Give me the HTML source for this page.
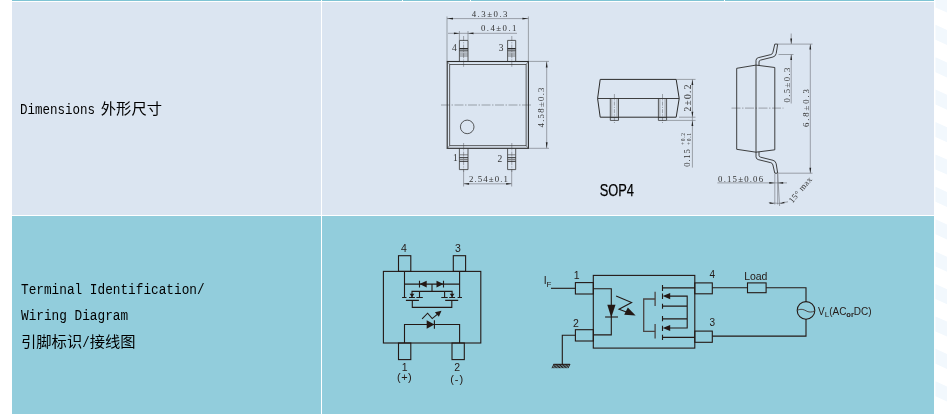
<!DOCTYPE html>
<html lang="zh">
<head>
<meta charset="utf-8">
<title>SOP4 Dimensions / Wiring Diagram</title>
<style>
html,body{margin:0;padding:0;background:#fff;}
body{width:947px;height:414px;position:relative;overflow:hidden;font-family:"Liberation Sans","Noto Sans CJK SC",sans-serif;}
.c{position:absolute;}
.lt{background:#dbe5f1;}
.tl{background:#92cddc;}
.lab{will-change:transform;position:absolute;left:21px;white-space:nowrap;color:#000;font-size:15px;line-height:20px;height:20px;}
.lab .m{font-family:"Liberation Mono","Noto Sans CJK SC",monospace;font-size:12.5px;display:inline-block;transform:scaleY(1.2);transform-origin:0 77%;}
.lab .k{font-family:"Liberation Sans","Noto Sans CJK SC",sans-serif;font-size:15.300px;}
svg{position:absolute;left:0;top:0;will-change:transform;}
svg text{font-family:"Liberation Serif","Noto Serif CJK SC",serif;fill:#333;}
svg .a{font-family:"Liberation Sans","Noto Sans CJK SC",sans-serif;fill:#231815;}
</style>
</head>
<body>
<!-- table backgrounds -->
<div class="c" style="left:12px;top:0;width:922px;height:1px;background:#7fc4d4"></div>
<div class="c lt" style="left:12px;top:2px;width:309px;height:213px"></div>
<div class="c lt" style="left:322px;top:2px;width:612px;height:213px"></div>
<div class="c tl" style="left:12px;top:216px;width:309px;height:198px"></div>
<div class="c tl" style="left:322px;top:216px;width:612px;height:198px"></div>
<div class="c" style="left:321px;top:0;width:1px;height:2px;background:#fff"></div>
<div class="c" style="left:402px;top:0;width:1px;height:2px;background:#fff"></div>
<div class="c" style="left:470px;top:0;width:1px;height:2px;background:#fff"></div>
<div class="c" style="left:724px;top:0;width:1px;height:2px;background:#fff"></div>

<!-- left column labels -->
<div class="lab" style="top:98.600px;left:20.200px"><span class="m">Dimensions</span><span class="k" style="margin-left:5.800px">外形尺寸</span></div>
<div class="lab" style="top:278.600px;left:20.500px"><span class="m" style="font-size:12.750px">Terminal Identification/</span></div>
<div class="lab" style="top:305px;left:20.500px"><span class="m" style="font-size:12.750px">Wiring Diagram</span></div>
<div class="lab" style="top:332px"><span class="k">引脚标识</span><span class="m">/</span><span class="k">接线图</span></div>

<svg width="947" height="414" viewBox="0 0 947 414">
<!-- faint page decoration at right margin -->
<path d="M935.500 -40.0L947 -34.8V-19.8L935.500 -25.0ZM935.500 -7.6L947 -2.4V12.6L935.500 7.4ZM935.500 24.8L947 30.0V45.0L935.500 39.8ZM935.500 57.2L947 62.4V77.4L935.500 72.2ZM935.500 89.6L947 94.8V109.8L935.500 104.6ZM935.500 122.0L947 127.2V142.2L935.500 137.0ZM935.500 154.4L947 159.6V174.6L935.500 169.4ZM935.500 186.8L947 192.0V207.0L935.500 201.8ZM935.500 219.2L947 224.4V239.4L935.500 234.2ZM935.500 251.6L947 256.8V271.8L935.500 266.6ZM935.500 284.0L947 289.2V304.2L935.500 299.0ZM935.500 316.4L947 321.6V336.6L935.500 331.4ZM935.500 348.8L947 354.0V369.0L935.500 363.8ZM935.500 381.2L947 386.4V401.4L935.500 396.2ZM935.500 413.6L947 418.8V433.8L935.500 428.6Z" fill="#f2f8fd"/>
<!-- ===== top view ===== -->
<g id="topview" fill="none" stroke-linecap="butt">
 <!-- extension + dimension lines -->
 <g stroke="#6b6f75" stroke-width=".6">
  <path d="M447 16.5V61M528.4 16.5V61"/>
  <path d="M447 18.600H528.400"/>
  <path d="M459.4 31V40M468 31V40"/>
  <path d="M448 33.300H517"/>
  <path d="M528.400 61.400H549M528.400 148.300H549"/>
  <path d="M546.700 61.400V148.300"/>
  <path d="M463.600 170V186.500M511.700 170V186.500"/>
  <path d="M463.600 183.800H511.700"/>
  <!-- centre lines -->
  <path d="M441 105H532" stroke-dasharray="9 1.5 1.5 1.5"/>
  <path d="M463.6 36V67M511.8 36V67M463.6 143V172M511.8 143V172" stroke-dasharray="5 1.2 1.2 1.2"/>
 </g>
 <!-- arrow heads -->
 <g fill="#222" stroke="none">
  <path d="M447 18.600l6-.9v1.800zM528.400 18.600l-6-.9v1.800z"/>
  <path d="M459.400 33.300l-5.500-.9v1.800zM468 33.300l5.500-.9v1.800z"/>
  <path d="M546.700 61.400l-.9 6h1.800zM546.700 148.300l-.9-6h1.800z"/>
  <path d="M463.600 183.800l5.500-.9v1.800zM511.700 183.800l-5.500-.9v1.800z"/>
 </g>
 <!-- body -->
 <rect x="447.200" y="61.500" width="81.200" height="86.800" stroke="#2b2b2b" stroke-width="1.100"/>
 <rect x="449.700" y="64.400" width="76.400" height="81.300" stroke="#3a3a3a" stroke-width=".8"/>
 <path d="M447.200 61.500l2.500 2.900M528.400 61.500l-2.300 2.900M447.200 148.300l2.500-2.600M528.400 148.300l-2.300-2.600" stroke="#444" stroke-width=".6"/>
 <circle cx="467.2" cy="126.900" r="6.800" stroke="#333" stroke-width=".8"/>
 <!-- pins -->
 <g stroke="#333" stroke-width=".8">
  <path d="M459.400 61.500V40.400H468V61.500M507.600 61.500V40.400H515.700V61.500"/>
  <path d="M459.400 148.300V169.600H468V148.300M507.600 148.300V169.600H515.700V148.300"/>
 </g>
 <g stroke="#2b2b2b" stroke-width="1">
  <path d="M459.400 48.500H468M459.400 50.100H468M507.600 48.500H515.700M507.600 50.100H515.700"/>
  <path d="M459.400 157.700H468M459.400 161.300H468M507.600 157.700H515.700M507.600 161.300H515.700"/>
 </g>
 <g stroke="#555" stroke-width=".7">
  <path d="M459.400 51.900H468M459.400 54H468M459.400 56H468M507.600 51.900H515.700M507.600 54H515.700M507.600 56H515.700"/>
  <path d="M459.400 154.800H468M459.400 159.500H468M507.600 154.800H515.700M507.600 159.500H515.700"/>
 </g>
</g>
<g font-size="9.500" stroke="none">
 <text x="471.700" y="16.800" font-size="8.800" textLength="35.800" lengthAdjust="spacing">4.3±0.3</text>
 <text x="481" y="31.300" font-size="8.800" textLength="35.500" lengthAdjust="spacing">0.4±0.1</text>
 <text x="469" y="181.800" font-size="8.800" textLength="39" lengthAdjust="spacing">2.54±0.1</text>
 <text transform="translate(544.300 127.500) rotate(-90)" font-size="8.800" textLength="40" lengthAdjust="spacing">4.58±0.3</text>
 <text x="452" y="50.800">4</text>
 <text x="498.700" y="50.800">3</text>
 <text x="453" y="160.800">1</text>
 <text x="497.600" y="161.500">2</text>
</g>

<!-- ===== side view (pins) ===== -->
<g id="sideview" fill="none">
 <g stroke="#6b6f75" stroke-width=".6">
  <path d="M676.500 79.400H695.500M679 117.200H695.500M667 120.400H695.500"/>
  <path d="M692.400 79.400V167.600"/>
  <path d="M614.400 94V123M662.500 94V123" stroke-dasharray="4 1.2 1.2 1.2"/>
 </g>
 <g fill="#222" stroke="none">
  <path d="M692.400 79.400l-.9 5.500h1.800zM692.400 117.200l-.9-5.500h1.800zM692.400 120.400l-.9 5.500h1.800z"/>
 </g>
 <path d="M600.200 79.400H676.200L679.200 98.500L676.200 117.200H600.200L597.600 98.500Z" stroke="#2b2b2b" stroke-width="1"/>
 <path d="M597.600 98.500H679.200" stroke="#2b2b2b" stroke-width=".9"/>
 <g stroke="#333" stroke-width=".8">
  <path d="M610.300 98.500V120.400H618.500V98.500M658.400 98.500V120.400H666.600V98.500"/>
  <path d="M611.800 99V117.200M617 99V117.200M659.900 99V117.200M665.100 99V117.200" stroke="#777" stroke-width=".6"/>
  <path d="M610.300 117.600H618.500M658.400 117.600H666.600"/>
 </g>
</g>
<g font-size="8.800" stroke="none">
 <text transform="translate(690.900 111.500) rotate(-90)" font-size="9.500" textLength="27" lengthAdjust="spacing">2±0.2</text>
 <text transform="translate(690 166.700) rotate(-90)" textLength="17.500" lengthAdjust="spacing">0.15</text>
 <text transform="translate(685.200 145) rotate(-90)" font-size="5.500" textLength="12" lengthAdjust="spacing">+0.2</text>
 <text transform="translate(690.800 145) rotate(-90)" font-size="5.500" textLength="12" lengthAdjust="spacing">+0.1</text>
</g>
<text class="a" x="599.800" y="195.500" font-size="16.400" textLength="34.200" lengthAdjust="spacingAndGlyphs" style="fill:#000;stroke:#000;stroke-width:.25">SOP4</text>

<!-- ===== end view (lead profile) ===== -->
<g id="endview" fill="none">
 <g stroke="#6b6f75" stroke-width=".6">
  <path d="M778 44.100H812.500M778.500 54.500H793.500M778 173.200H812.500"/>
  <path d="M791.200 33.500V44M791.200 54.500V103.500"/>
  <path d="M810.300 44.100V173.200"/>
  <path d="M717.400 182.900H787"/>
  <path d="M774.800 174V204.500M777.700 174V204.500"/>
  <path d="M777.700 174L779.600 206"/>
  <path d="M768.800 202.500Q778 204.600 788 201.800"/>
  <path d="M731.500 108.100H783.500" stroke-dasharray="9 1.500 1.500 1.500"/>
 </g>
 <g fill="#222" stroke="none">
  <path d="M791.200 44.100l-.9-5.500h1.800zM791.200 54.500l-.9 5.500h1.800z"/>
  <path d="M810.300 44.100l-.9 5.500h1.800zM810.300 173.200l-.9-5.500h1.800z"/>
  <path d="M774.800 182.900l-5.500-.9v1.800zM777.700 182.900l5.500-.9v1.800z"/>
  <path d="M774.800 203.800l-5-1.600l-.3 1.600zM779.500 203.700l5-.5l-.3-1.500z"/>
 </g>
 <g stroke="#2b2b2b" stroke-width=".9" stroke-linejoin="round">
  <!-- package body -->
  <path d="M736.700 68.300L756 65.100L774.800 67.500V149.800L756 152.200L736.700 149.300Z"/>
  <path d="M756 65.100V152.200"/>
  <!-- upper lead -->
  <path d="M756 65.200V60.500Q756 58.300 758.200 57.700L770.800 54.600Q772.600 54.100 772.900 52.300L774.800 44.100H777.700L776.200 53.500Q775.700 56.300 773 57L760.600 60.100Q759 60.500 759 62V65.500"/>
  <!-- lower lead -->
  <path d="M756 152.100V156.800Q756 159 758.200 159.600L770.800 162.700Q772.600 163.200 772.900 165L774.800 173.200H777.700L776.200 163.800Q775.700 161 773 160.300L760.600 157.200Q759 156.800 759 155.300V151.800"/>
 </g>
</g>
<g font-size="8.800" stroke="none">
 <text transform="translate(789.700 102.500) rotate(-90)" textLength="35" lengthAdjust="spacing">0.5±0.3</text>
 <text transform="translate(808.700 127) rotate(-90)" textLength="38" lengthAdjust="spacing">6.8±0.3</text>
 <text x="718.100" y="181.500" textLength="45" lengthAdjust="spacing">0.15±0.06</text>
 <text transform="translate(792.500 203.500) rotate(-50)" font-size="8.500" textLength="31" lengthAdjust="spacing">15° max</text>
</g>

<!-- ===== terminal identification ===== -->
<g id="terminal" fill="none" stroke="#231815" stroke-width="1.100" stroke-linecap="butt" stroke-linejoin="miter">
 <rect x="383.400" y="271.400" width="97.400" height="71.600"/>
 <rect x="398.500" y="255.700" width="12.300" height="15.700"/>
 <rect x="453.300" y="255.700" width="12.300" height="15.700"/>
 <rect x="398.500" y="343" width="12.300" height="16.600"/>
 <rect x="452" y="343" width="12.300" height="16.600"/>
 <!-- output side -->
 <path d="M404.500 271.400V297.500M459.600 271.400V297.500"/>
 <path d="M404.500 284.100H459.600"/>
 <path d="M432 284.100V291.400M412 297.500V291.400H452.100V297.500M419.500 291.400V297.500M444.600 291.400V297.500"/>
 <path d="M402.100 297.500H406.500M409 297.500H414.900M416.400 297.500H422.800"/>
 <path d="M441.300 297.500H447.700M449.200 297.500H455.100M457.600 297.500H462"/>
 <path d="M405.900 300.400H418.900M445.200 300.400H458.200"/>
 <path d="M412.300 300.400V307.400H451.800V300.400"/>
 <path d="M419.500 280.700V287.500M443.500 280.700V287.500"/>
 <!-- input LED -->
 <path d="M404.500 343V324.500H459.600V343"/>
 <path d="M434.400 320.200V328.800"/>
 <path d="M422.100 318.800L427.600 313.200L432.200 318.600L438.500 313.300"/>
 <g fill="#231815" stroke="none">
  <path d="M419.500 284.100L426.700 280.700V287.500Z"/>
  <path d="M443.500 284.100L436.500 280.700V287.500Z"/>
  <path d="M412 297.300L409.600 293.700H414.400Z"/>
  <path d="M452.100 297.300L449.700 293.700H454.500Z"/>
  <path d="M434.400 324.500L426.700 320.200V328.800Z"/>
  <path d="M441.500 310.700L438.900 316.800L434.900 312.200Z"/>
 </g>
</g>
<g class="a" font-size="10.500" text-anchor="middle" stroke="none">
 <text class="a" x="403.800" y="251.700">4</text>
 <text class="a" x="457.800" y="251.700">3</text>
 <text class="a" x="404.600" y="370.700">1</text>
 <text class="a" x="457.200" y="370.700">2</text>
 <text class="a" x="404.600" y="381" font-size="11" letter-spacing=".4">(+)</text>
 <text class="a" x="457.200" y="383" font-size="11" letter-spacing="1">(-)</text>
</g>

<!-- ===== wiring diagram ===== -->
<g id="wiring" fill="none" stroke="#231815" stroke-width="1.100">
 <rect x="593.300" y="275.400" width="101.500" height="72.700"/>
 <rect x="575.400" y="282.600" width="17.900" height="11.400"/>
 <rect x="575.400" y="329.700" width="17.900" height="11.300"/>
 <rect x="694.800" y="282.900" width="17.500" height="10.900"/>
 <rect x="694.800" y="331.100" width="17.500" height="11.200"/>
 <path d="M551 288.300H575.400"/>
 <path d="M575.400 335.200H562.300V364.500"/>
 <!-- LED -->
 <path d="M593.300 288.700H611.300V334.900H593.300"/>
 <path d="M605.100 317H618"/>
 <path d="M616.100 296.100L631.600 302.500L619 309.200L629 313"/>
 <!-- MOSFET pair -->
 <g stroke="#4a4443" stroke-width="1.300">
  <path d="M655.100 291.700V306.100M655.100 324.100V338.600"/>
  <path d="M655.100 299H643.700V331.300H655.100"/>
 </g>
 <path d="M662.500 285.100V290.900M662.500 293.600V299M662.500 303.800V308.700M662.500 316V321.200M662.500 325.700V330.900M662.500 334.800V340"/>
 <path d="M662.500 287.900H694.800M662.500 337.400H694.800"/>
 <path d="M668 296.100H687.200V328H668M662.500 306.100H687.200M662.500 318.900H687.200"/>
 <!-- load loop -->
 <path d="M712.300 287.700H747.500M766.100 287.700H806V301.500M806 319V336.100H712.300"/>
 <rect x="747.500" y="282.900" width="18.600" height="9.800"/>
 <circle cx="806" cy="310.400" r="8.800"/>
 <path d="M797.300 310.200C801 308.600 803.500 309.300 806 310.800S811.500 312.600 814.700 310.900" stroke="#4a4443" stroke-width="1"/>
 <g fill="#231815" stroke="none">
  <path d="M611.300 317.400L607.300 304.800H615.500Z"/>
  <path d="M635.600 315.500L624.200 314.800L627.800 307.500Z"/>
  <path d="M662.700 296.100L670.200 293V299.200Z"/>
  <path d="M662.700 328L670.200 324.900V331.100Z"/>
 </g>
 <!-- ground -->
 <g stroke-width="1">
  <path d="M553.500 364.300H570"/>
  <path d="M554.0 364L552.0 368.200M555.5 364L553.5 368.200M556.9 364L554.9 368.200M558.4 364L556.4 368.200M559.8 364L557.8 368.200M561.2 364L559.2 368.200M562.7 364L560.7 368.200M564.1 364L562.1 368.200M565.6 364L563.6 368.200M567.0 364L565.0 368.200M568.5 364L566.5 368.200M570.0 364L568.0 368.200"/>
 </g>
</g>
<g stroke="none">
 <text class="a" x="543.800" y="283.800" font-size="10.500">I</text>
 <text class="a" x="546.600" y="287.300" font-size="8">F</text>
 <text class="a" x="576.700" y="279.400" font-size="10.500" text-anchor="middle">1</text>
 <text class="a" x="576" y="326.500" font-size="10.500" text-anchor="middle">2</text>
 <text class="a" x="712.400" y="278.200" font-size="10" text-anchor="middle">4</text>
 <text class="a" x="712.400" y="326.100" font-size="10" text-anchor="middle">3</text>
 <text class="a" x="744.300" y="279.700" font-size="10.500" textLength="23" lengthAdjust="spacing">Load</text>
 <text class="a" x="818" y="314.700" font-size="10">V<tspan font-size="8" dy="2.600">L</tspan><tspan dy="-2.600">(AC</tspan><tspan font-size="7.500" font-weight="bold" dy="2.600">or</tspan><tspan dy="-2.600">DC)</tspan></text>
</g>

</svg>
</body>
</html>
